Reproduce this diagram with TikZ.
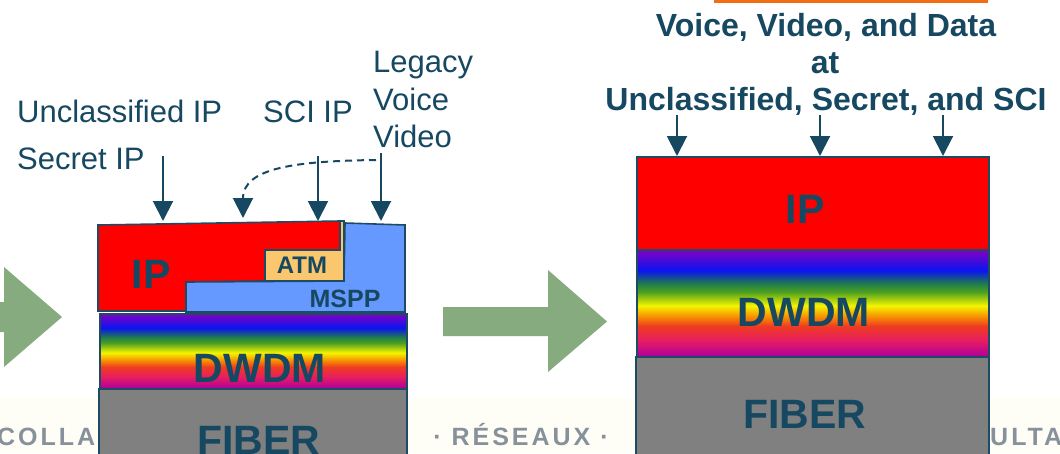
\documentclass[tikz,border=0pt]{standalone}
\usepackage{fontspec}
\setmainfont{Liberation Sans}
\usetikzlibrary{arrows.meta}

\definecolor{ink}{RGB}{23,72,97}
\definecolor{edge}{RGB}{30,75,100}
\definecolor{ipred}{RGB}{255,0,0}
\definecolor{mspp}{RGB}{102,153,255}
\definecolor{atm}{RGB}{250,198,110}
\definecolor{fiber}{RGB}{128,128,128}
\definecolor{flow}{RGB}{134,171,126}
\definecolor{wmark}{RGB}{135,145,155}
\definecolor{band}{RGB}{255,254,246}
\definecolor{topline}{RGB}{242,110,20}
% wavelength band, bottom to top
\definecolor{rbA}{RGB}{176,0,154}
\definecolor{rbB}{RGB}{232,30,96}
\definecolor{rbC}{RGB}{238,60,32}
\definecolor{rbD}{RGB}{248,154,0}
\definecolor{rbE}{RGB}{245,245,0}
\definecolor{rbF}{RGB}{76,160,32}
\definecolor{rbG}{RGB}{30,122,80}
\definecolor{rbH}{RGB}{10,20,240}
\definecolor{rbI}{RGB}{138,0,192}
\pgfdeclareverticalshading{rainbowband}{100bp}{%
  color(0bp)=(rbA); color(25bp)=(rbA); color(32.5bp)=(rbB); color(39bp)=(rbC);
  color(44bp)=(rbD); color(48.5bp)=(rbE); color(55bp)=(rbF); color(59bp)=(rbG);
  color(65bp)=(rbH); color(75bp)=(rbI); color(100bp)=(rbI)}

\tikzset{
  feed/.style={draw=ink, line width=2pt, -{Triangle[width=20pt,length=20pt]}},
  layer/.style={draw=edge, line width=1.6pt, inner sep=0pt, anchor=north west},
  outline/.style={draw=edge, line width=1.6pt, line join=miter},
  lbl/.style={text=ink, font=\fontsize{31}{37.5}\selectfont, inner sep=0pt, anchor=base west},
  headline/.style={text=ink, font=\fontsize{32}{37.5}\selectfont\bfseries, inner sep=0pt, anchor=base},
  big/.style={text=ink, font=\fontsize{41}{41}\selectfont\bfseries, inner sep=0pt, anchor=base},
  small/.style={text=ink, font=\fontsize{25}{25}\selectfont\bfseries, inner sep=0pt, anchor=base},
  wm/.style={text=wmark, font=\fontsize{25}{25}\selectfont\bfseries\addfontfeature{LetterSpace=12}, inner sep=0pt},
  flowarrow/.style={fill=flow},
}

\begin{document}
\begin{tikzpicture}[x=1pt,y=-1pt]
\useasboundingbox (0,0) rectangle (1060,453);

% faint footer band with its motto
\fill[band] (0,398) rectangle (1060,453);
\node[wm, anchor=base west] (wm1) at (-3,445) {COLLAB};
\node[wm, anchor=base] (wm2) at (521,445) {· RÉSEAUX ·};
\node[wm, anchor=base west] (wm3) at (990,445) {ULTAT};

% edge of a box above
\draw[topline, line width=3pt] (714,1.5) -- (988,1.5);

% transition arrows
\fill[flowarrow] (-20,302) -- (4,302) -- (4,267) -- (62,317) -- (4,367) -- (4,332) -- (-20,332) -- cycle;
\fill[flowarrow] (443,307) -- (548,307) -- (548,270) -- (607,321.5) -- (548,372) -- (548,336) -- (443,336) -- cycle;

% ---------- left stack ----------
\node[layer, fill=fiber, minimum width=308pt, minimum height=80pt] (fibL) at (98,388) {};
\path[shading=rainbowband] (99,313) rectangle (406,388);
\node[layer, minimum width=307pt, minimum height=75pt] (dwL) at (99,313) {};
\filldraw[outline, fill=ipred] (98,225) -- (340,221) -- (340,250) -- (265,250) -- (265,281)
  -- (186,282) -- (186,311) -- (98,311) -- cycle;
\filldraw[outline, fill=atm] (265,250) -- (340,250) -- (340,221) -- (344,221) -- (344,281)
  -- (265,281) -- cycle;
\filldraw[outline, fill=mspp] (186,282) -- (344,281) -- (345,223) -- (405,225) -- (405,312)
  -- (186,312) -- cycle;

\node[big] (ipLt) at (151,288) {IP};
\node[small, font=\fontsize{24}{24}\selectfont\bfseries] (atmt) at (302,273) {ATM};
\node[small] (msppt) at (345,307) {MSPP};
\node[big] (dwLt) at (260,382) {DWDM};
\node[big] (fibLt) at (259,454) {FIBER};

% ---------- right stack ----------
\node[layer, fill=fiber, minimum width=353pt, minimum height=110pt] (fibR) at (635,356) {};
\path[shading=rainbowband] (636,249) rectangle (988,356);
\node[layer, minimum width=352pt, minimum height=107pt] (dwR) at (636,249) {};
\node[layer, fill=ipred, minimum width=352pt, minimum height=93pt] (ipR) at (636,156) {};

\node[big] (ipRt) at (805,223) {IP};
\node[big] (dwRt) at (804,326) {DWDM};
\node[big] (fibRt) at (805,428) {FIBER};

% ---------- left labels and feeds ----------
\node[lbl] (uip) at (17,122) {Unclassified IP};
\node[lbl] (sip) at (17,169) {Secret IP};
\node[lbl] (sci) at (263,122) {SCI IP};
\node[lbl] (leg1) at (373,72) {Legacy};
\node[lbl] (leg2) at (373,110) {Voice};
\node[lbl] (leg3) at (373,147) {Video};

\coordinate (fSecret) at (163,156);
\coordinate (fSecretEnd) at (163,221);
\coordinate (fSci) at (318,156);
\coordinate (fSciEnd) at (318,221);
\coordinate (fLeg) at (381,153);
\coordinate (fLegEnd) at (381,221);
\coordinate (fDash) at (376,160);
\coordinate (fDashEnd) at (243,218);

\draw[feed] (fSecret) -- (fSecretEnd);
\draw[feed] (fSci) -- (fSciEnd);
\draw[feed] (fLeg) -- (fLegEnd);
\draw[feed, dash pattern=on 7pt off 5pt] (fDash) .. controls (295,161) and (243,168) .. (fDashEnd);

% ---------- right labels and feeds ----------
\node[headline] (h1) at (826,36) {Voice, Video, and Data};
\node[headline] (h2) at (825,73) {at};
\node[headline] (h3) at (826,110) {Unclassified, Secret, and SCI};

\coordinate (r1) at (677,115);
\coordinate (r2) at (820,115);
\coordinate (r3) at (943,115);
\draw[feed] (r1) -- (r1 |- ipR.north);
\draw[feed] (r2) -- (r2 |- ipR.north);
\draw[feed] (r3) -- (r3 |- ipR.north);
\end{tikzpicture}
\end{document}
